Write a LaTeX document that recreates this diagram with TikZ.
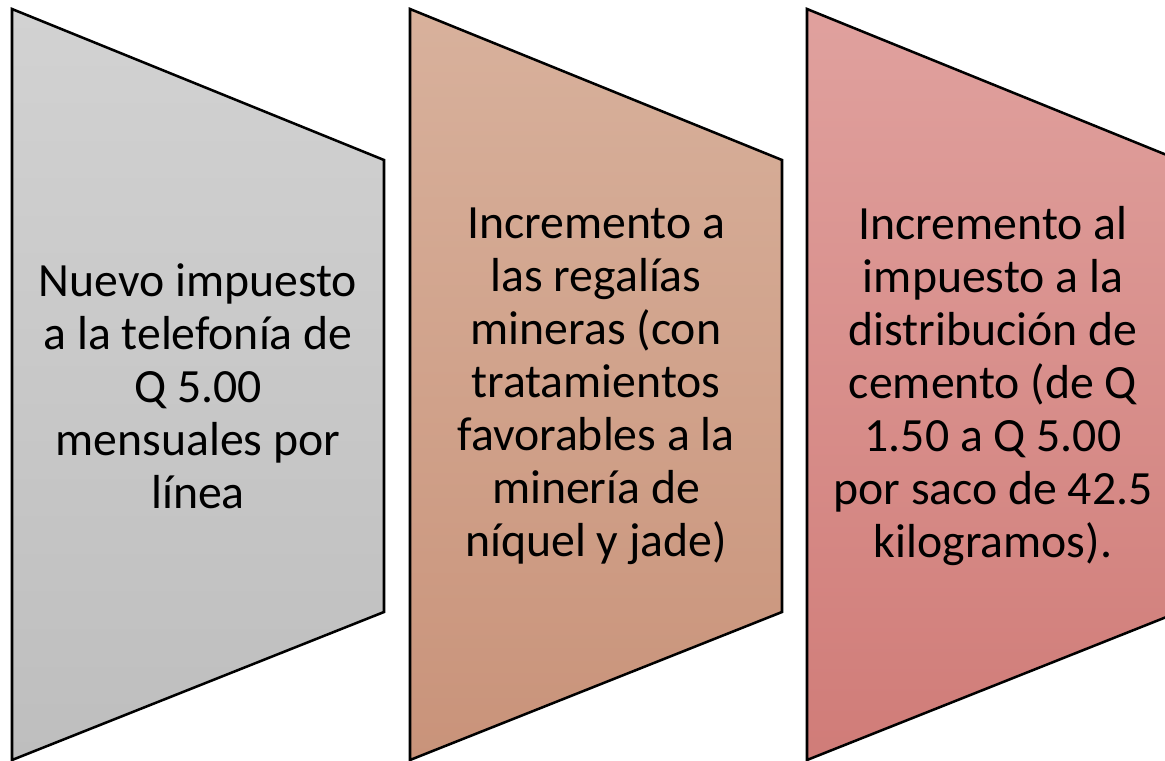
\documentclass[tikz,border=0pt]{standalone}
\usepackage{fontspec}
\setmainfont{Carlito}
\begin{document}
\begin{tikzpicture}[x=0.75pt,y=-0.75pt,
  trap/.style={draw=black,line width=1.9pt,line join=miter},
  lbl/.style={align=center,font=\fontsize{35.8}{39.8}\selectfont,text=black,inner sep=0pt}]
\useasboundingbox (0,0) rectangle (1165,761);
\clip (0,0) rectangle (1165,761);
\definecolor{g1}{HTML}{D2D2D2}\definecolor{g2}{HTML}{BEBEBE}
\definecolor{b1}{HTML}{D8B19C}\definecolor{b2}{HTML}{C9937A}
\definecolor{r1}{HTML}{E0A19E}\definecolor{r2}{HTML}{D07C78}
\draw[trap,top color=g1,bottom color=g2] (12,9) -- (384,160) -- (384,612) -- (12,760) -- cycle;
\draw[trap,top color=b1,bottom color=b2] (410,9) -- (782,160) -- (782,612) -- (410,760) -- cycle;
\draw[trap,top color=r1,bottom color=r2] (807,9) -- (1179,160) -- (1179,612) -- (807,760) -- cycle;
\node[lbl] (t1) at (198,386) {Nuevo impuesto\\a la telefonía de\\Q 5.00\\mensuales por\\línea};
\node[lbl] (t2) at (596,386) {Incremento a\\las regalías\\mineras (con\\tratamientos\\favorables a la\\minería de\\níquel y jade)};
\node[lbl] (t3) at (993,386) {Incremento al\\impuesto a la\\distribución de\\cemento (de Q\\1.50 a Q 5.00\\por saco de 42.5\\kilogramos).};
\end{tikzpicture}
\end{document}
